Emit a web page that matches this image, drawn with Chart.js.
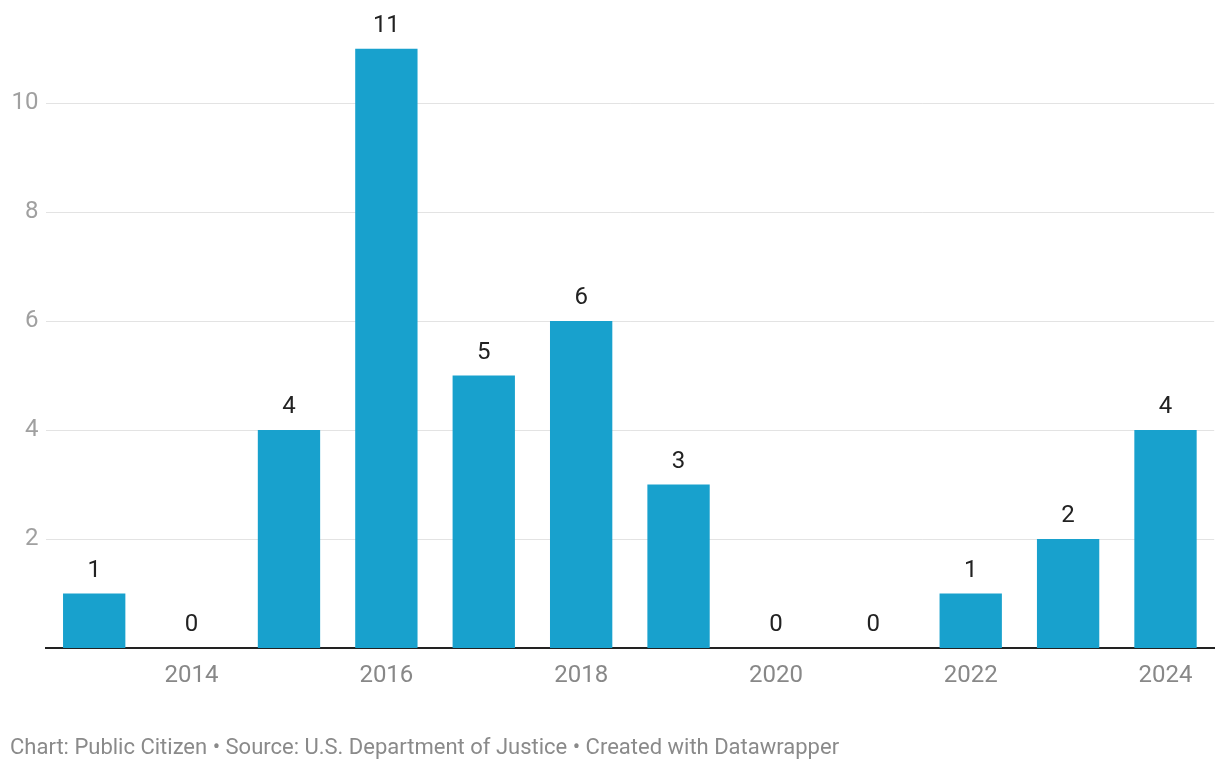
<!DOCTYPE html>
<html>
<head>
<meta charset="utf-8">
<script src="https://cdn.jsdelivr.net/npm/chart.js@4"></script>
<style>
  body { margin: 0; background: #fff; }
  #wrap { position: relative; width: 1220px; height: 770px; }
  #footer {
    position: absolute; left: 10px; top: 732px;
    font: 22px Roboto, sans-serif; line-height: 30px; color: #8a8a8a;
  }
</style>
</head>
<body>
<div id="wrap">
  <canvas id="chart"></canvas>
  <div id="footer">Chart: Public Citizen • Source: U.S. Department of Justice • Created with Datawrapper</div>
</div>
<script>
  var years = ['2013', '2014', '2015', '2016', '2017', '2018', '2019', '2020', '2021', '2022', '2023', '2024']
  var counts = [1, 0, 4, 11, 5, 6, 3, 0, 0, 1, 2, 4]
  var yTicks = [2, 4, 6, 8, 10]

  // numbers above the bars
  var valueLabels = {
    id: 'valueLabels',
    afterDatasetsDraw: function (chart) {
      var c = chart.ctx
      var meta = chart.getDatasetMeta(0)
      c.save()
      c.font = '24px Roboto'
      c.fillStyle = '#222'
      c.textAlign = 'center'
      c.textBaseline = 'alphabetic'
      meta.data.forEach(function (bar, i) {
        c.fillText(String(counts[i]), bar.x, bar.y - 17)
      })
      c.restore()
    }
  }

  var ctx = document.getElementById('chart')

  var chart = new Chart(ctx, {
    type: 'bar',
    data: {
      labels: years,
      datasets: [{
        data: counts,
        backgroundColor: '#18a1cd',
        barPercentage: 0.64,
        categoryPercentage: 1
      }]
    },
    options: {
      responsive: true,
      maintainAspectRatio: false,
      animation: false,
      layout: { padding: { top: 48.5, right: 5.8, bottom: 72, left: 0 } },
      plugins: {
        legend: { display: false },
        tooltip: { enabled: false }
      },
      scales: {
        x: {
          z: 1,
          grid: { display: false, drawTicks: false },
          border: { color: '#222', width: 2 },
          afterFit: function (s) { s.height = 50 },
          ticks: {
            autoSkip: false,
            maxRotation: 0,
            padding: 14,
            color: '#888',
            font: { family: 'Roboto', size: 24 },
            callback: function (v, i) { return Number(years[i]) % 2 === 0 ? years[i] : '' }
          }
        },
        y: {
          min: 0,
          max: 11,
          afterBuildTicks: function (s) { s.ticks = yTicks.map(function (v) { return { value: v } }) },
          afterFit: function (s) { s.width = 45.5 },
          grid: { color: '#e3e3e3', lineWidth: 1, drawTicks: false },
          border: { display: false },
          ticks: {
            padding: 7,
            color: '#a0a0a0',
            font: { family: 'Roboto', size: 24 }
          }
        }
      }
    },
    plugins: [valueLabels]
  })
</script>
</body>
</html>
